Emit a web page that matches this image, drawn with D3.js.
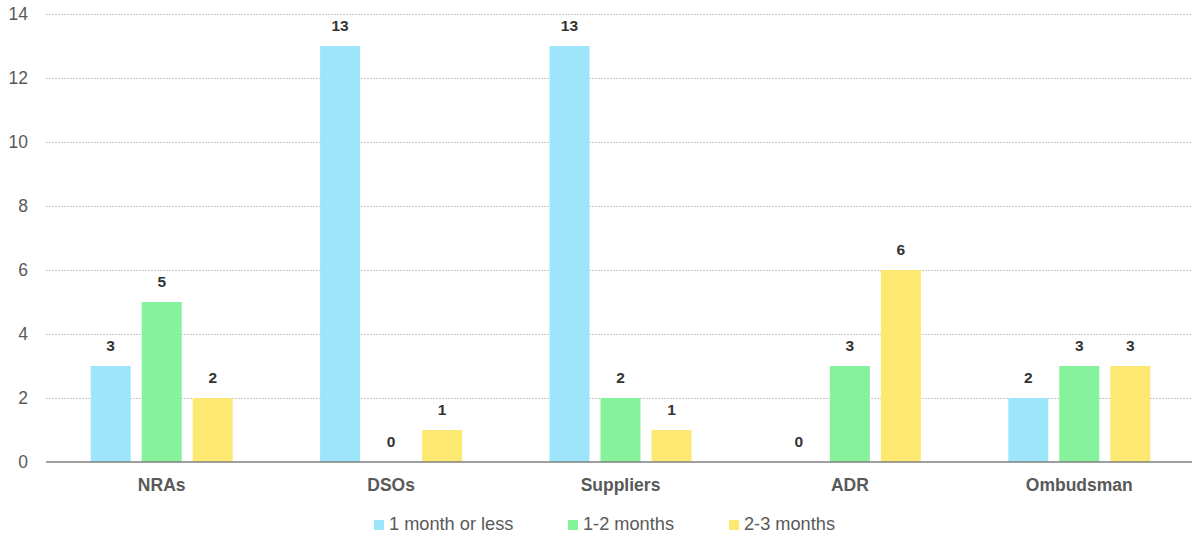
<!DOCTYPE html>
<html><head><meta charset="utf-8">
<script src="https://cdn.jsdelivr.net/npm/d3@7"></script>
<style>body{margin:0;background:#fff;font-family:"Liberation Sans",Arial,sans-serif;}</style>
</head><body><svg id="c" width="1192" height="538"></svg>
<script>
const categories = ["NRAs","DSOs","Suppliers","ADR","Ombudsman"];
const seriesNames = ["1 month or less","1-2 months","2-3 months"];
const oneMonthOrLess = [3,13,13,0,2];
const oneToTwoMonths = [5,0,2,3,3];
const twoToThreeMonths = [2,1,1,6,3];
const yTicks = [0,2,4,6,8,10,12,14];
const colors = ["#9de5fb","#86f29c","#fde972"];
const seriesValues = [oneMonthOrLess, oneToTwoMonths, twoToThreeMonths];

const svg = d3.select("#c");
const mLeft = 47, mRight = 1194, mTop = 14, mBottom = 462;
const x = d3.scaleBand().domain(categories).range([mLeft,mRight]);
const y = d3.scaleLinear().domain([0,14]).range([mBottom,mTop]);
const xs = d3.scaleBand().domain(d3.range(3)).range([0,142]).paddingInner(0.2157);

// grid
svg.append("g").selectAll("line").data(yTicks.filter(d=>d>0)).join("line")
  .attr("x1",46).attr("x2",1192).attr("y1",d=>y(d)+0.5).attr("y2",d=>y(d)+0.5)
  .attr("stroke","#c8c8c8").attr("stroke-dasharray","2,1");

// y labels
svg.append("g").selectAll("text").data(yTicks).join("text")
  .attr("x",28).attr("y",d=>y(d)+5.5).attr("text-anchor","end")
  .attr("font-size",17.5).attr("fill","#595959").text(d=>d);

// bars
const groups = svg.append("g").selectAll("g").data(categories).join("g")
  .attr("transform",c=>`translate(${x(c)+x.bandwidth()/2-71},0)`);
groups.each(function(c,ci){
  const g = d3.select(this);
  seriesValues.forEach((vals,si)=>{
    const v = vals[ci];
    if (v>0) g.append("rect").attr("x",xs(si)).attr("width",xs.bandwidth())
      .attr("y",y(v)).attr("height",y(0)-y(v)).attr("fill",colors[si]);
    g.append("text").attr("x",xs(si)+xs.bandwidth()/2).attr("y",y(v)-15)
      .attr("text-anchor","middle").attr("font-size",15.5).attr("font-weight","bold")
      .attr("fill","#333").text(v);
  });
});

// zero axis
svg.append("line").attr("x1",46).attr("x2",1192).attr("y1",y(0)).attr("y2",y(0))
  .attr("stroke","#7f7f7f").attr("stroke-width",1.5);

// x labels
svg.append("g").selectAll("text").data(categories).join("text")
  .attr("x",c=>x(c)+x.bandwidth()/2).attr("y",490.5).attr("text-anchor","middle")
  .attr("font-size",17.5).attr("font-weight","bold").attr("fill","#595959").text(c=>c);

// legend
const legX = [374,568,729];
const leg = svg.append("g").selectAll("g").data(seriesNames).join("g")
  .attr("transform",(d,i)=>`translate(${legX[i]},0)`);
leg.append("rect").attr("x",0).attr("y",520).attr("width",10).attr("height",10).attr("fill",(d,i)=>colors[i]);
leg.append("text").attr("x",15).attr("y",530).attr("font-size",18.2).attr("fill","#595959").text(d=>d);
</script></body></html>
